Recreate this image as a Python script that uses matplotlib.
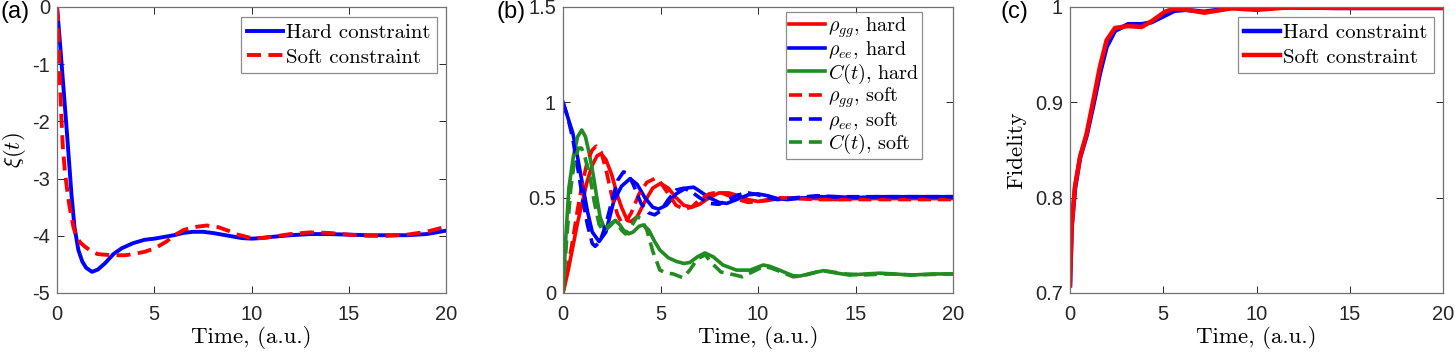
import numpy as np
import matplotlib
matplotlib.use("Agg")
import matplotlib.pyplot as plt

plt.rcParams['mathtext.fontset'] = 'cm'
plt.rcParams['font.family'] = ['Liberation Sans', 'DejaVu Sans']

# ---------------- Panel (a) data ----------------
t_a_hard = [0, 0.1, 0.25, 0.5, 0.75, 0.9, 1.1, 1.3, 1.5, 1.8, 2.1, 2.47, 2.9, 3.32, 3.9, 4.5,
            5.0, 5.5, 6.0, 6.5, 7.0, 7.5, 8.0, 8.5, 9.0, 9.5, 10, 10.5, 11, 12, 13, 14, 15,
            16, 17, 18, 19, 20]
xi_hard = [0, -0.4, -1.05, -2.15, -3.3, -3.85, -4.25, -4.45, -4.56, -4.63, -4.59, -4.48, -4.32,
           -4.22, -4.13, -4.07, -4.05, -4.02, -3.99, -3.95, -3.93, -3.93, -3.95, -3.98, -4.01,
           -4.04, -4.05, -4.04, -4.02, -3.99, -3.97, -3.97, -3.98, -3.99, -3.99, -3.99, -3.97, -3.91]
t_a_soft = [0, 0.05, 0.1, 0.15, 0.2, 0.3, 0.4, 0.5, 0.65, 0.84, 1.0, 1.2, 1.44, 1.8, 2.1, 2.8,
            3.5, 3.9, 4.5, 5.03, 5.63, 6.0, 6.5, 7.0, 7.7, 8.3, 8.8, 9.3, 10, 10.5, 11, 12, 13,
            14, 15, 16, 17, 18, 19, 20]
xi_soft = [0, -0.2, -0.7, -1.3, -1.75, -2.45, -2.85, -3.14, -3.5, -3.84, -4.02, -4.12, -4.19,
           -4.28, -4.32, -4.34, -4.34, -4.32, -4.28, -4.22, -4.10, -4.0, -3.9, -3.85, -3.82,
           -3.85, -3.91, -3.98, -4.04, -4.04, -4.02, -3.97, -3.94, -3.95, -3.98, -4.0, -4.0,
           -3.98, -3.93, -3.84]

# ---------------- Panel (b) data ----------------
t_gg_hard = [0, 0.25, 0.5, 0.75, 1.0, 1.25, 1.5, 1.75, 1.95, 2.2, 2.5, 2.8, 3.0, 3.3, 3.5, 3.8,
             4.2, 4.6, 5.0, 5.4, 5.8, 6.2, 6.6, 7.0, 7.5, 8.0, 8.5, 9.0, 9.5, 10, 10.5, 11, 12,
             13, 14, 15, 16, 18, 20]
rho_gg_hard = [0, 0.11, 0.24, 0.37, 0.48, 0.59, 0.67, 0.72, 0.73, 0.70, 0.62, 0.51, 0.45, 0.38,
               0.375, 0.40, 0.48, 0.55, 0.575, 0.55, 0.50, 0.46, 0.45, 0.465, 0.50, 0.525, 0.525,
               0.51, 0.49, 0.48, 0.485, 0.495, 0.50, 0.495, 0.49, 0.495, 0.495, 0.495, 0.495]
t_ee_hard = [0, 0.25, 0.5, 0.75, 1.0, 1.25, 1.5, 1.85, 2.2, 2.6, 3.0, 3.44, 3.8, 4.2, 4.6, 4.9,
             5.3, 5.8, 6.3, 6.7, 7.0, 7.5, 8.0, 8.4, 8.9, 9.5, 10, 10.5, 11, 11.5, 12, 13, 14,
             15, 16, 18, 20]
rho_ee_hard = [1.0, 0.92, 0.84, 0.71, 0.57, 0.43, 0.32, 0.27, 0.32, 0.48, 0.56, 0.60, 0.57, 0.50,
               0.45, 0.44, 0.46, 0.52, 0.55, 0.555, 0.535, 0.50, 0.475, 0.47, 0.49, 0.515, 0.52,
               0.51, 0.495, 0.49, 0.495, 0.505, 0.505, 0.50, 0.505, 0.505, 0.505]
t_c_hard = [0, 0.15, 0.3, 0.53, 0.75, 0.96, 1.15, 1.35, 1.55, 1.75, 1.9, 2.15, 2.4, 2.67, 2.9,
            3.1, 3.35, 3.6, 3.9, 4.12, 4.4, 4.7, 4.97, 5.4, 5.83, 6.2, 6.5, 6.9, 7.28, 7.7, 8.2,
            8.9, 9.6, 10.27, 10.6, 11.1, 11.8, 12.15, 12.8, 13.35, 14.0, 14.7, 15.5, 16.25,
            17.0, 17.8, 19, 20]
c_hard = [0, 0.3, 0.55, 0.715, 0.82, 0.855, 0.82, 0.73, 0.62, 0.49, 0.40, 0.33, 0.35, 0.38,
          0.36, 0.33, 0.31, 0.32, 0.35, 0.357, 0.33, 0.27, 0.225, 0.185, 0.165, 0.155, 0.16,
          0.19, 0.21, 0.19, 0.147, 0.12, 0.12, 0.147, 0.14, 0.12, 0.09, 0.089, 0.105, 0.117,
          0.105, 0.094, 0.10, 0.104, 0.10, 0.094, 0.10, 0.10]
t_gg_soft = [0, 0.25, 0.5, 0.75, 1.0, 1.25, 1.5, 1.7, 1.95, 2.2, 2.5, 2.8, 3.0, 3.2, 3.5, 3.9,
             4.3, 4.7, 5.0, 5.4, 5.8, 6.2, 6.6, 7.0, 7.5, 8.0, 8.5, 9.0, 9.5, 10, 10.5, 11, 12,
             13, 14, 16, 20]
rho_gg_soft = [0, 0.13, 0.28, 0.44, 0.58, 0.69, 0.75, 0.77, 0.74, 0.65, 0.51, 0.41, 0.37, 0.37,
               0.42, 0.52, 0.58, 0.60, 0.58, 0.52, 0.46, 0.44, 0.45, 0.49, 0.52, 0.53, 0.51,
               0.49, 0.475, 0.48, 0.49, 0.50, 0.495, 0.49, 0.49, 0.49, 0.49]
t_ee_soft = [0, 0.25, 0.5, 0.75, 1.0, 1.25, 1.5, 1.65, 1.9, 2.2, 2.5, 2.8, 3.1, 3.3, 3.6, 4.0,
             4.4, 4.7, 5.0, 5.4, 5.8, 6.2, 6.6, 7.0, 7.5, 8.0, 8.5, 9.0, 9.5, 10, 10.5, 11, 12,
             13, 14, 16, 20]
rho_ee_soft = [1.0, 0.92, 0.81, 0.66, 0.50, 0.36, 0.26, 0.245, 0.27, 0.36, 0.48, 0.59, 0.635,
               0.63, 0.57, 0.47, 0.42, 0.41, 0.43, 0.49, 0.54, 0.55, 0.53, 0.50, 0.47, 0.465,
               0.49, 0.515, 0.525, 0.515, 0.50, 0.49, 0.50, 0.51, 0.505, 0.505, 0.505]
t_c_soft = [0, 0.2, 0.4, 0.6, 0.8, 0.95, 1.13, 1.38, 1.6, 1.85, 2.05, 2.4, 2.7, 3.0, 3.2, 3.5,
            3.8, 4.0, 4.3, 4.6, 4.97, 5.3, 5.65, 6.15, 6.5, 6.9, 7.3, 7.6, 8.1, 8.8, 9.2, 9.7,
            10.3, 10.7, 11.2, 11.8, 12.3, 13, 13.5, 14.5, 15.5, 16.5, 18, 20]
c_soft = [0, 0.3, 0.55, 0.70, 0.76, 0.76, 0.71, 0.61, 0.48, 0.36, 0.33, 0.36, 0.38, 0.33, 0.31,
          0.35, 0.40, 0.39, 0.33, 0.22, 0.12, 0.105, 0.10, 0.08, 0.12, 0.18, 0.20, 0.16, 0.11,
          0.095, 0.085, 0.11, 0.14, 0.13, 0.11, 0.085, 0.09, 0.11, 0.115, 0.10, 0.095, 0.10,
          0.095, 0.10]

# ---------------- Panel (c) data ----------------
t_f_hard = [0, 0.09, 0.27, 0.54, 0.89, 1.25, 1.6, 1.96, 2.41, 3.12, 3.84, 4.37, 5.09, 5.6, 6.2,
            7.2, 8.66, 10, 12, 14.3, 20]
fid_hard = [0.708, 0.77, 0.81, 0.842, 0.865, 0.897, 0.93, 0.958, 0.975, 0.982, 0.982, 0.984,
            0.991, 0.996, 0.997, 0.995, 0.999, 0.9995, 0.9995, 0.999, 0.999]
t_f_soft = [0, 0.09, 0.27, 0.54, 0.89, 1.25, 1.6, 1.96, 2.41, 3.12, 3.84, 4.37, 5.09, 5.6, 6.3,
            7.2, 8.66, 10, 11.8, 14.3, 20]
fid_soft = [0.7084, 0.77, 0.812, 0.843, 0.867, 0.902, 0.937, 0.965, 0.978, 0.980, 0.979, 0.985,
            0.995, 0.9985, 0.997, 0.994, 0.9986, 0.997, 0.9997, 0.999, 0.999]

W, H = 1455, 354
fig = plt.figure(figsize=(W / 100, H / 100), dpi=100)

def mk_ax(x0, x1, y0=7, y1=293):
    return fig.add_axes([x0 / W, 1 - y1 / H, (x1 - x0) / W, (y1 - y0) / H])

axA = mk_ax(57, 446)
axB = mk_ax(563, 953)
axC = mk_ax(1070, 1443)

SERIF = 'cmr10'
DASH = (0, (3.6, 1.9))
TICKFS = 14.5
LABFS = 16.5

def style(ax):
    ax.tick_params(direction='in', top=True, right=True, length=5, width=0.7,
                   labelsize=TICKFS, colors='#262626', pad=5)
    ax.tick_params(axis='x', pad=9)
    for s in ax.spines.values():
        s.set_color('#707070')
        s.set_linewidth(0.9)
    ax.set_xlim(0, 20)
    ax.set_xticks([0, 5, 10, 15, 20])
    ax.set_xlabel('Time, (a.u.)', fontsize=LABFS, family=SERIF, labelpad=1)

def legend(ax, right, top, fs, spacing, pad):
    lg = ax.legend(loc='upper right', prop={'family': SERIF, 'size': fs}, fancybox=False,
                   edgecolor='#707070', handlelength=1.75, handletextpad=0.15, borderpad=pad,
                   labelspacing=spacing, bbox_to_anchor=(right, top), borderaxespad=0)
    lg.get_frame().set_linewidth(0.9)
    return lg

# Panel (a)
axA.plot(t_a_hard, xi_hard, color='#0000ff', lw=2.8, label='Hard constraint')
axA.plot(t_a_soft, xi_soft, color='#ff0000', lw=2.8, ls=DASH, label='Soft constraint')
style(axA)
axA.set_ylim(-5, 0)
axA.set_yticks([0, -1, -2, -3, -4, -5])
axA.set_yticklabels(['0', '-1', '-2', '-3', '-4', '-5'])
axA.set_ylabel(r'$\xi(t)$', fontsize=LABFS, labelpad=3)
legend(axA, (437 - 57) / 389, 1 - 10 / 286, 15, 0.3, 0.3)

# Panel (b)
axB.plot(t_gg_hard, rho_gg_hard, color='#ff0000', lw=2.6, label=r'$\rho_{gg}$, hard')
axB.plot(t_ee_hard, rho_ee_hard, color='#0000ff', lw=2.6, label=r'$\rho_{ee}$, hard')
axB.plot(t_c_hard, c_hard, color='#228b22', lw=2.6, label=r'$C(t)$, hard')
axB.plot(t_gg_soft, rho_gg_soft, color='#ff0000', lw=2.6, ls=DASH, label=r'$\rho_{gg}$, soft')
axB.plot(t_ee_soft, rho_ee_soft, color='#0000ff', lw=2.6, ls=DASH, label=r'$\rho_{ee}$, soft')
axB.plot(t_c_soft, c_soft, color='#228b22', lw=2.6, ls=DASH, label=r'$C(t)$, soft')
style(axB)
axB.set_ylim(0, 1.5)
axB.set_yticks([0, 0.5, 1, 1.5])
axB.set_yticklabels(['0', '0.5', '1', '1.5'])
legend(axB, (922 - 563) / 390, 1 - 5 / 286, 14.5, 0.0, 0.15)

# Panel (c)
axC.plot(t_f_hard, fid_hard, color='#0000ff', lw=3.2, label='Hard constraint')
axC.plot(t_f_soft, fid_soft, color='#ff0000', lw=3.2, label='Soft constraint')
style(axC)
axC.set_ylim(0.7, 1.0)
axC.set_yticks([0.7, 0.8, 0.9, 1.0])
axC.set_yticklabels(['0.7', '0.8', '0.9', '1'])
axC.set_ylabel('Fidelity', fontsize=LABFS, family=SERIF, labelpad=6)
legend(axC, (1434 - 1070) / 373, 1 - 10 / 286, 15, 0.3, 0.3)

# Panel letters
fig.text(0 / W, 1 - 1 / H, '(a)', fontsize=17, color='black', va='top')
fig.text(497 / W, 1 - 1 / H, '(b)', fontsize=17, color='black', va='top')
fig.text(1000 / W, 1 - 1 / H, '(c)', fontsize=17, color='black', va='top')

fig.savefig('out.png', dpi=100)
